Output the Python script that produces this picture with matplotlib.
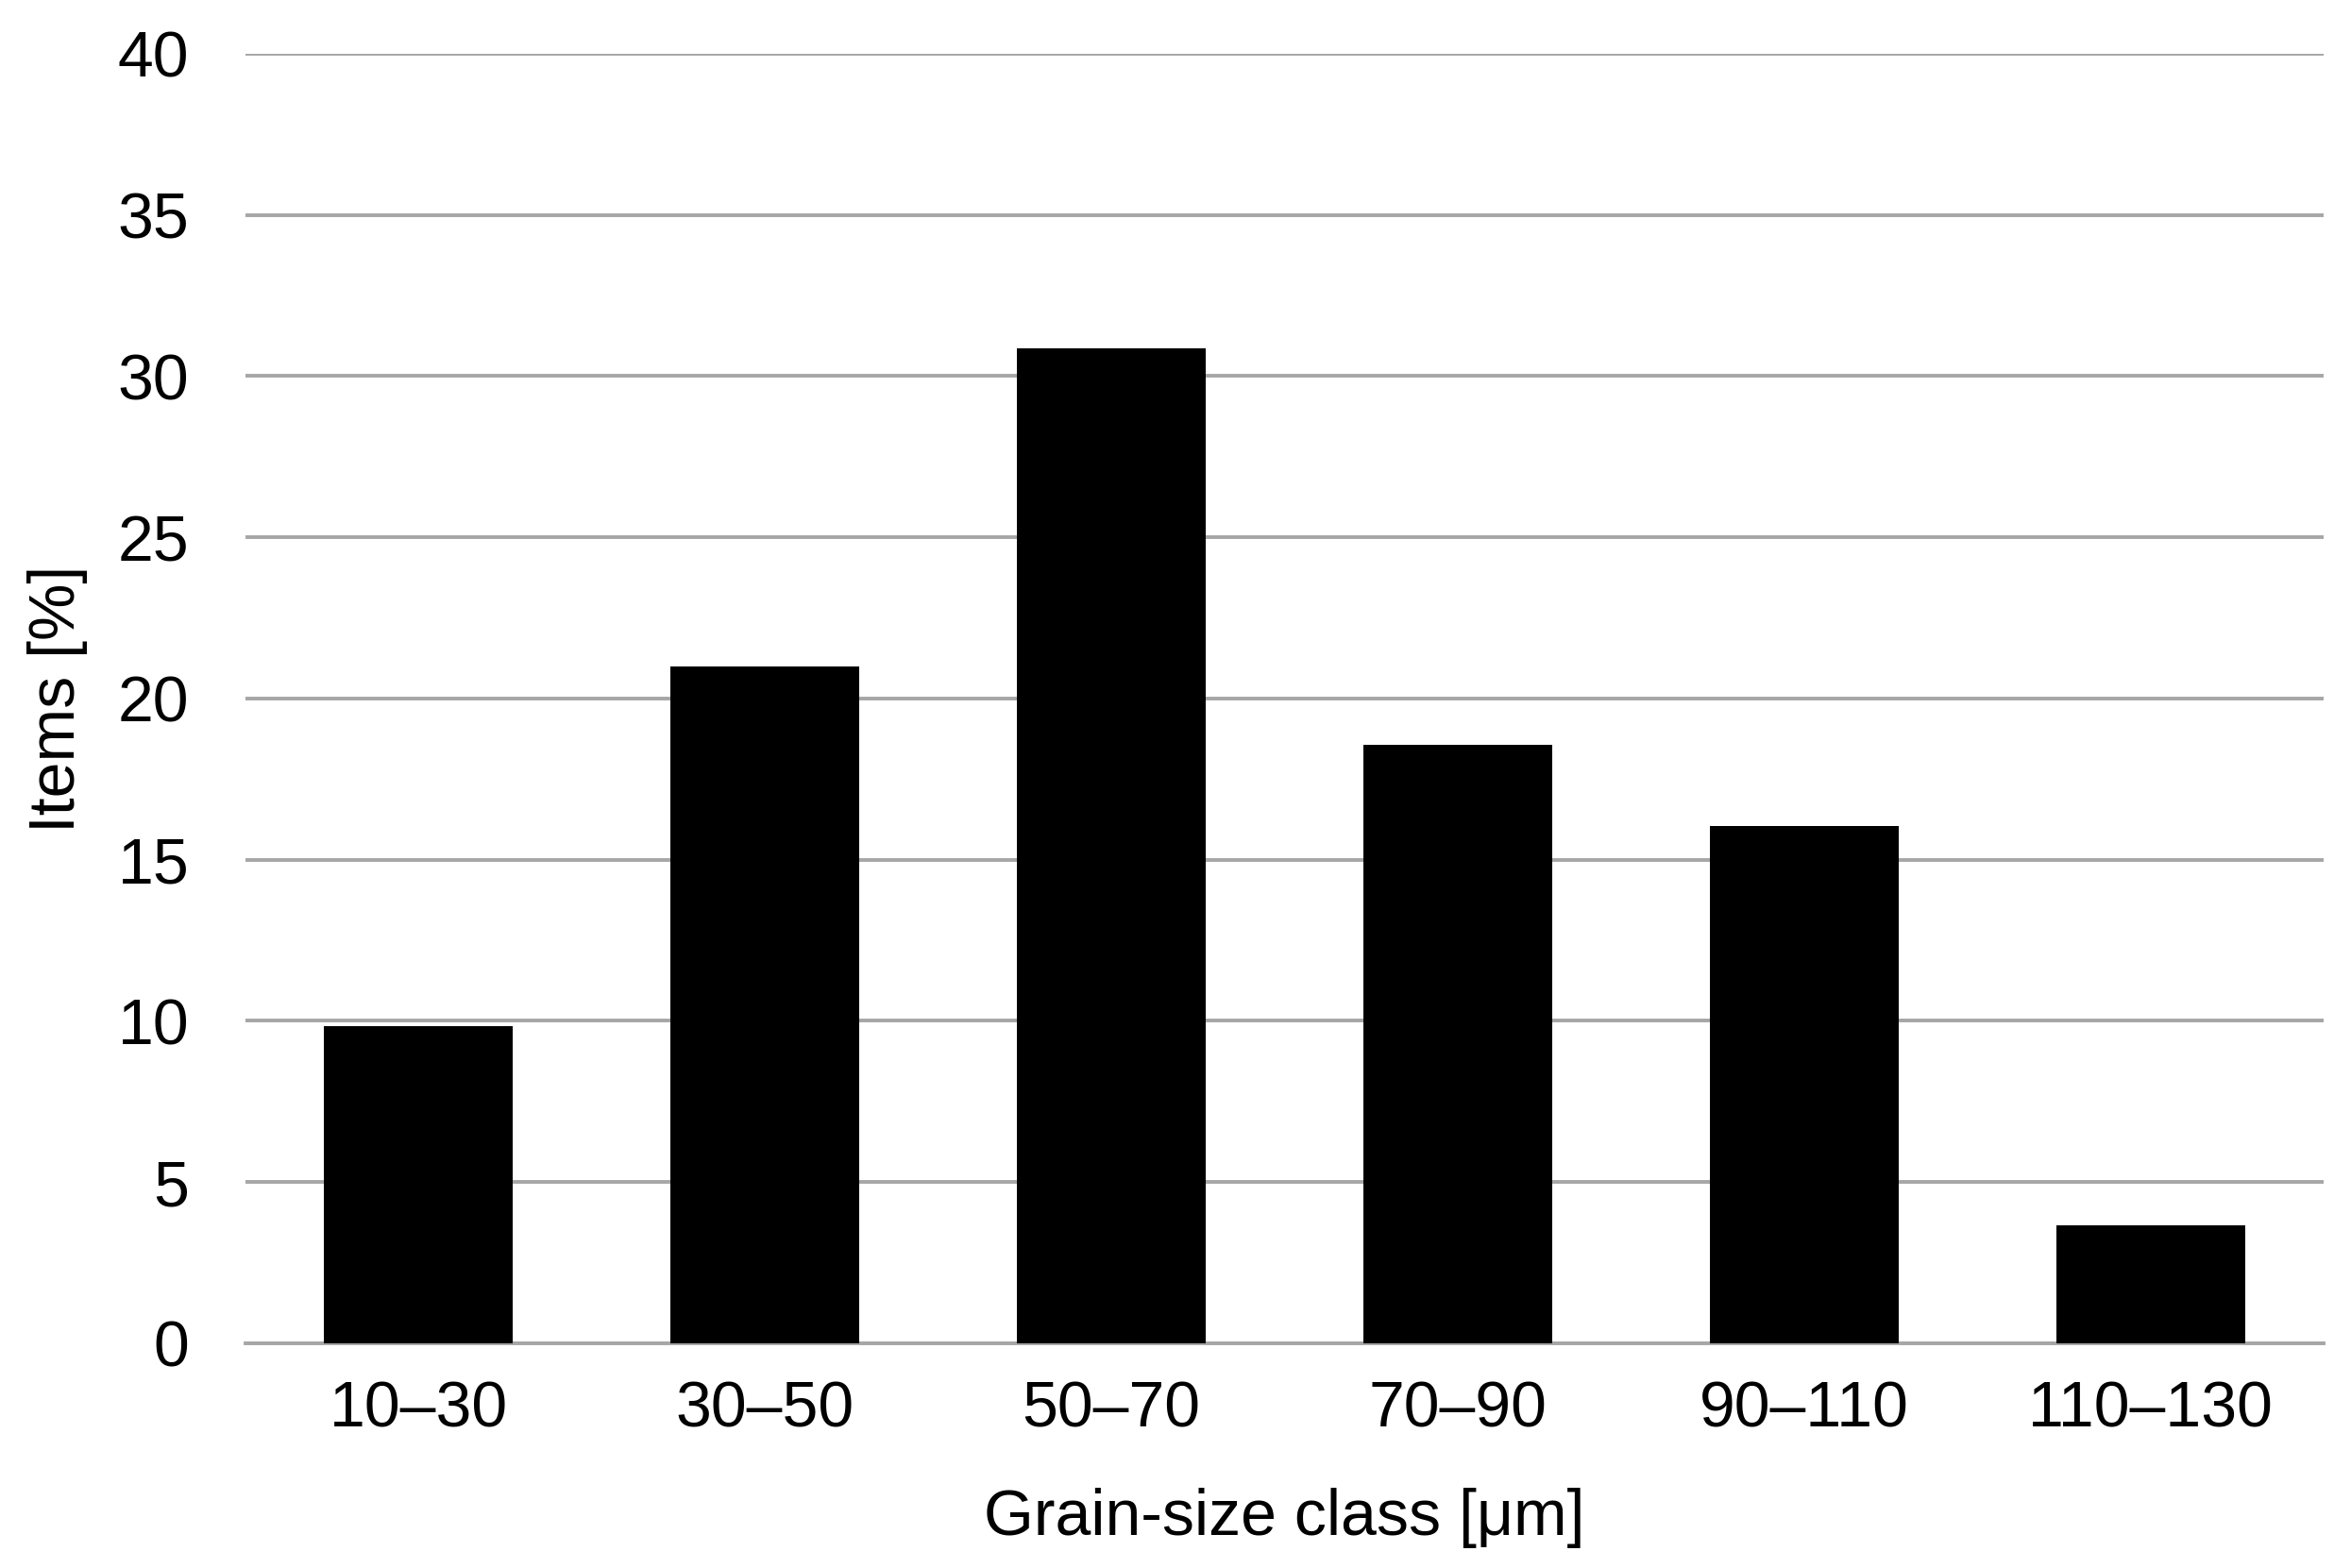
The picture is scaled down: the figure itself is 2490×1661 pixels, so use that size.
import matplotlib
matplotlib.use("Agg")
import matplotlib.pyplot as plt
import numpy as np

plt.rcParams["font.family"] = ["Liberation Sans", "DejaVu Sans"]

classes = ["10–30", "30–50", "50–70", "70–90", "90–110", "110–130"]
items_pct = [9.85, 21.0, 30.85, 18.55, 16.05, 3.65]
y_ticks = [0, 5, 10, 15, 20, 25, 30, 35, 40]

fig = plt.figure(figsize=(24.9, 16.61), dpi=100)
ax = fig.add_axes([0.1044, 0.1433, 0.8840, 0.8224])

x = np.arange(len(classes))
ax.bar(x, items_pct, width=0.545, color="black", zorder=3)

ax.set_xlim(-0.5, len(classes) - 0.5)
ax.set_ylim(0, 40)
ax.set_yticks(y_ticks)
ax.set_xticks(x)
ax.set_xticklabels(classes)

# gray horizontal gridlines, no frame
ax.grid(axis="y", color="#a6a6a6", linewidth=2.8, zorder=0)
for s in ["top", "right", "left"]:
    ax.spines[s].set_visible(False)
ax.spines["bottom"].set_color("#a6a6a6")
ax.spines["bottom"].set_linewidth(2.8)
ax.tick_params(axis="both", length=0, labelsize=49)
ax.tick_params(axis="y", pad=43)
ax.tick_params(axis="x", pad=28)

ax.set_xlabel("Grain-size class [μm]", fontsize=49, labelpad=36)
ax.set_ylabel("Items [%]", fontsize=49, labelpad=23)

fig.savefig("out.png", dpi=100)
plt.close(fig)
